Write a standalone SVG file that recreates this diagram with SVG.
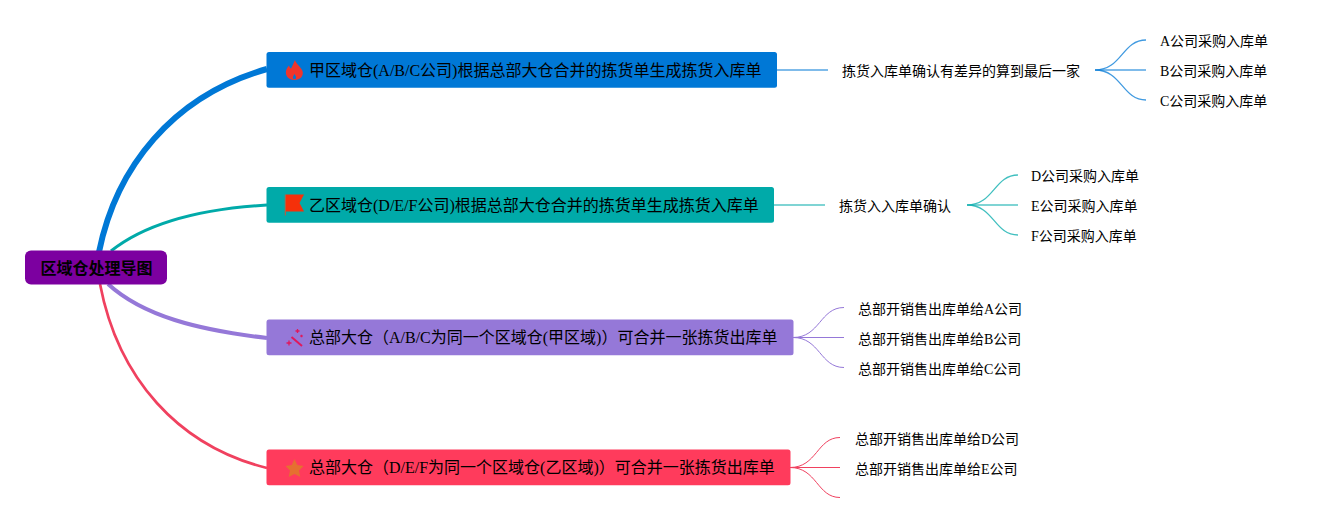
<svg xmlns="http://www.w3.org/2000/svg" width="1329" height="523" viewBox="0 0 1329 523">
<style>
text{font-family:"Liberation Serif","Noto Sans CJK SC",serif;fill:#000}
.m{font-size:16px}
.s{font-size:14px}
.r{font-size:16px;font-weight:bold}
.c{fill:none;stroke-linecap:butt}
.a{stroke:#0078d6}.b{stroke:#00aaa9}.p{stroke:#9578d8}.d{stroke:#f0415f}
.t{stroke-opacity:.5;stroke-width:2}
.f{stroke-opacity:.75;stroke-width:1.300}
.g{stroke-width:1}
</style>
<rect width="1329" height="523" fill="#fff"/>
<g id="connectors">
<path class="c a" stroke-width="6" d="M99 252C116 168 172 96 267 69"/>
<path class="c b" stroke-width="3" d="M111 251C145 224 198 209 267 205"/>
<path class="c p" stroke-width="4" d="M108 284C143 316 198 330 267 338"/>
<path class="c d" stroke-width="2.700" d="M100 284C118 378 178 446 267 468"/>
<path class="c a t" d="M777 70H828"/>
<path class="c b t" d="M774 205H825"/>
<path class="c a f" d="M1095 70C1122 70 1122 40 1146 40M1095 70C1122 70 1122 100 1146 100"/>
<path class="c a t" d="M1095 70H1146"/>
<path class="c b f" d="M967 205C994 205 994 175 1018 175M967 205C994 205 994 235 1018 235"/>
<path class="c b t" d="M967 205H1018"/>
<path class="c p g" d="M793 337.500C820 337.500 820 307.500 844 307.500M793 337.500H844M793 337.500C820 337.500 820 367.500 844 367.500"/>
<path class="c d g" d="M790 467.500C817 467.500 817 437.500 840 437.500M790 467.500H840M790 467.500C817 467.500 817 497.500 840 497.500"/>
</g>
<g id="root"><rect x="25" y="250.500" width="142" height="34" rx="6" fill="#7c00a0"/><text class="r" x="40.500" y="274">区域仓处理导图</text></g>
<g id="n1"><rect x="266.500" y="52" width="510.500" height="35.800" rx="2.500" fill="#0078d6"/>
<path fill-rule="evenodd" d="M295 60C296 64 301 67 302.500 71C304 76 300 80 294.500 80C289 80 285 76 286 71C286.500 68.500 288 66.500 289 65.500C289.500 67 290 68 291 68.500C292.500 66 293.500 63 295 60ZM294.500 74C293.500 75.500 292.500 77 293 78.500C294 79.200 295 79.200 296 78.500C296.500 77 295.500 75.500 294.500 74Z" fill="#f0352c"/><text class="m" x="309" y="76">甲区域仓(A/B/C公司)根据总部大仓合并的拣货单生成拣货入库单</text></g>
<g id="n1a"><text class="s" x="842" y="76">拣货入库单确认有差异的算到最后一家</text></g>
<g id="n1a1"><text class="s" x="1160" y="46">A公司采购入库单</text></g>
<g id="n1a2"><text class="s" x="1160" y="76">B公司采购入库单</text></g>
<g id="n1a3"><text class="s" x="1160" y="106">C公司采购入库单</text></g>
<g id="n2"><rect x="266.500" y="187" width="507.500" height="35.800" rx="2.500" fill="#00aaa9"/>
<path d="M285.300 194.500V215.500" stroke="#d8502f" stroke-width="1" fill="none"/><path d="M286 194.500H304L299.500 203L304 211.500H286Z" fill="#f5300a"/><text class="m" x="309" y="211">乙区域仓(D/E/F公司)根据总部大仓合并的拣货单生成拣货入库单</text></g>
<g id="n2a"><text class="s" x="839" y="211">拣货入入库单确认</text></g>
<g id="n2a1"><text class="s" x="1031" y="181">D公司采购入库单</text></g>
<g id="n2a2"><text class="s" x="1031" y="211">E公司采购入库单</text></g>
<g id="n2a3"><text class="s" x="1031" y="241">F公司采购入库单</text></g>
<g id="n3"><rect x="266.500" y="319.500" width="527" height="35.800" rx="2.500" fill="#9578d8"/>
<path d="M291.500 337L302 346" stroke="#e0185c" stroke-width="2" fill="none"/><path d="M286.500 343h5M289 340.500v5M297.500 329v4M295.500 331h4M301.500 334.800v2.400M300.300 336h2.400" stroke="#e0185c" stroke-width="1.300" fill="none"/><text class="m" x="309" y="343">总部大仓（A/B/C为同一个区域仓(甲区域)）可合并一张拣货出库单</text></g>
<g id="n3a"><text class="s" x="858" y="314">总部开销售出库单给A公司</text></g>
<g id="n3b"><text class="s" x="858" y="344">总部开销售出库单给B公司</text></g>
<g id="n3c"><text class="s" x="858" y="374">总部开销售出库单给C公司</text></g>
<g id="n4"><rect x="266.500" y="449.500" width="524" height="35.800" rx="2.500" fill="#ff3b5c"/>
<path d="M294.500 459L297.300 465L303.500 466L299 470.500L300.300 477L294.500 474L288.700 477L290 470.500L285.500 466L291.700 465Z" fill="#e57030"/><text class="m" x="309" y="473">总部大仓（D/E/F为同一个区域仓(乙区域)）可合并一张拣货出库单</text></g>
<g id="n4a"><text class="s" x="855" y="444">总部开销售出库单给D公司</text></g>
<g id="n4b"><text class="s" x="855" y="474">总部开销售出库单给E公司</text></g>
</svg>
